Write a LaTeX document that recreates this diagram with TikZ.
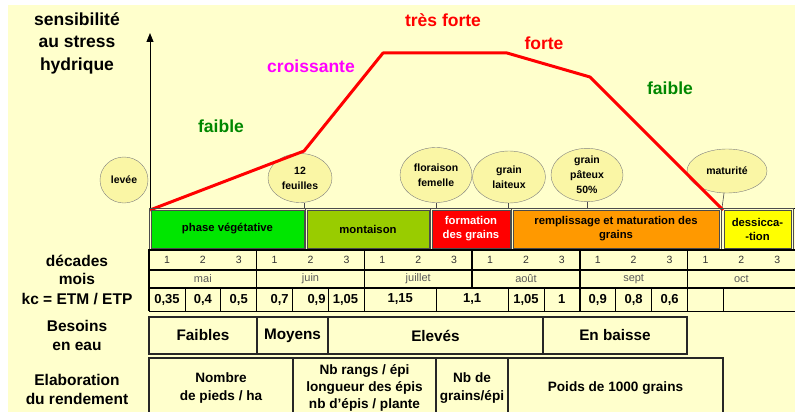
\documentclass[tikz,border=0pt]{standalone}
\usepackage{fontspec}
\setmainfont{Liberation Sans}
\usetikzlibrary{shapes.geometric,arrows.meta}

\definecolor{fond}{RGB}{255,255,204}
\definecolor{ellfond}{RGB}{250,246,165}
\definecolor{vegvert}{RGB}{0,230,0}
\definecolor{montvert}{RGB}{153,204,0}
\definecolor{formrouge}{RGB}{255,0,0}
\definecolor{remporange}{RGB}{255,153,0}
\definecolor{dessjaune}{RGB}{255,255,0}
\definecolor{txtvert}{RGB}{0,135,0}
\definecolor{txtmagenta}{RGB}{255,0,255}

\begin{document}
\begin{tikzpicture}[x=1pt,y=-1pt,
  stade/.style={ellipse,draw=gray,fill=ellfond,inner sep=0pt,align=center,
    font=\fontsize{10.5}{15}\selectfont\bfseries},
  phase/.style={draw=black!70,inner sep=0pt,minimum height=38pt,align=center,
    font=\fontsize{11.3}{14}\selectfont\bfseries},
  niveau/.style={font=\fontsize{17.5}{22}\selectfont\bfseries},
  titre/.style={align=center,font=\fontsize{15.5}{19}\selectfont\bfseries},
  case/.style={draw,line width=0.8pt,inner sep=0pt},
  kctexte/.style={font=\fontsize{13}{15}\selectfont\bfseries},
  grand/.style={case,draw=black!85,line width=1.1pt,align=center,
    font=\fontsize{15.3}{19}\selectfont\bfseries},
  rend/.style={case,draw=black!85,line width=1.1pt,align=center,
    font=\fontsize{13.6}{17.3}\selectfont\bfseries},
  tige/.style={draw=black!70,line width=0.6pt},
]

% fond et cadre
\useasboundingbox (0,0) rectangle (795,412);
\fill[fond] (8,5) rectangle (795,412);

% axe
\coordinate (origine) at (150,210);
\coordinate (axe) at (150,208);
\draw[line width=1pt,-{Triangle[length=9pt,width=7pt]}] (origine) -- (150,33);
\draw[line width=1pt] (axe) -- (795,208);

\node[titre,font=\fontsize{17.5}{22.5}\selectfont\bfseries] (sensib) at (77,43)
  {sensibilit\'e\\au stress\\hydrique};

% stades
\node[stade,minimum width=48pt,minimum height=46pt] (levee) at (124,180) {lev\'ee};
\node[stade,minimum width=64pt,minimum height=49pt] (feuil) at (300,178) {12\\feuilles};
\node[stade,minimum width=72pt,minimum height=55pt] (flor) at (436,175) {floraison\\femelle};
\node[stade,minimum width=73pt,minimum height=52pt] (lait) at (509,177) {grain\\laiteux};
\node[stade,minimum width=72pt,minimum height=49pt] (pat) at (587,175) {grain\\p\^ateux\\50\%};
\node[stade,minimum width=80pt,minimum height=44pt] (matur) at (727,171) {maturit\'e};

\draw[tige] ([xshift=4pt]feuil.south) -- ([xshift=4pt]feuil.south |- axe);
\draw[tige] (flor.south) -- (flor.south |- axe);
\draw[tige] ([xshift=-1pt]lait.south) -- ([xshift=-1pt]lait.south |- axe);
\draw[tige] (pat.south) -- (pat.south |- axe);
\draw[tige] ([xshift=-3pt]matur.south) -- ([xshift=-5pt]matur.south |- axe);

% courbe de sensibilite
\draw[red,line width=3pt,line join=round] (origine) -- (304,151) -- (383,53)
  -- (507,53) -- (590,77) -- (723,210);

\node[niveau,txtvert] (faib1) at (221,126) {faible};
\node[niveau,txtmagenta] (crois) at (311,66) {croissante};
\node[niveau,red] (tresf) at (443,20) {tr\`es forte};
\node[niveau,red] (forte) at (544,43) {forte};
\node[niveau,txtvert] (faib2) at (670,88) {faible};

% phases
\draw[black!70,line width=0.8pt] (149,208) rectangle (793,250);
\foreach \x in {305.5,430.5,511.5,721.5}
  \draw[black!70,line width=0.8pt] (\x,208) -- (\x,250);
\node[phase,fill=vegvert,minimum width=153pt] (veg) at (227.5,229) {phase v\'eg\'etative};
\node[phase,fill=montvert,minimum width=122pt] (mont) at (368,229) {montaison};
\node[phase,fill=formrouge,text=white,minimum width=78pt] (form) at (471,229) {formation\\des grains};
\node[phase,fill=remporange,minimum width=206pt] (remp) at (616,229) {remplissage et maturation des\\grains};
\node[phase,fill=dessjaune,minimum width=67pt] (dess) at (757.5,229) {dessicca-\\-tion};

% decades, mois
\node[titre] (decades) at (77,261) {d\'ecades};
\node[titre] (mois) at (77,279) {mois};
\node[titre] (kc) at (77,299) {kc = ETM / ETP};

\foreach \m [count=\i from 0] in {mai,juin,juillet,ao\^ut,sept,oct} {
  \node[case,line width=1.2pt,minimum width=107.7pt,minimum height=20pt]
    (dec\i) at ({149+(\i+0.5)*107.7},260) {};
  \node[case,line width=1.2pt,minimum width=107.7pt,minimum height=18pt,
    text=black!65,font=\fontsize{11}{13}\selectfont] (mois\i) at ({149+(\i+0.5)*107.7},279) {\m};
}
\foreach \d in {0,...,17}
  \node[text=black!80,font=\fontsize{10.5}{13}\selectfont] (num\d) at ({149+(\d+0.5)*35.9},260)
    {\pgfmathparse{int(mod(\d,3)+1)}\pgfmathresult};

% coefficients kc
\foreach \a/\b/\v/\s [count=\i] in {0/1/{0,35}/0,1/2/{0,4}/0,2/3/{0,5}/0,3/4/{0,7}/5,
    4/5/{0,9}/6,5/6/{1,05}/-1,6/8/{1,15}/0,8/10/{1,1}/0,10/11/{1,05}/0,11/12/{1}/0,
    12/13/{0,9}/0,13/14/{0,8}/0,14/15/{0,6}/0,15/16/{}/0,16/18/{}/0} {
  \node[case,minimum width={(\b-\a)*35.9pt},minimum height=23pt]
    (kc\i) at ({149+(\a+\b)/2*35.9},299.5) {};
  \node[kctexte,xshift=\s pt] at (kc\i) {\v};
}
\draw[line width=1.4pt] (149,250) -- (149,311);
\foreach \m/\bas in {1/311,2/311,3/288,4/311,5/311}
  \draw[line width=1.4pt] ({149+\m*107.7},250) -- ({149+\m*107.7},\bas);

% besoins en eau
\node[titre] (besoins) at (77,335.5) {Besoins\\en eau};
\node[grand,minimum width=108pt,minimum height=37pt] (bfaib) at (203,335.5) {Faibles};
\node[grand,minimum width=71pt,minimum height=37pt] (bmoy) at (292.5,335.5) {Moyens};
\node[grand,minimum width=215pt,minimum height=37pt] (belev) at (435.5,335.5) {Elev\'es};
\node[grand,minimum width=144pt,minimum height=37pt] (bbais) at (615,335.5) {En baisse};

% elaboration du rendement
\node[titre] (elab) at (77,389.5) {Elaboration\\du rendement};
\node[rend,minimum width=144pt,minimum height=60pt] (rpieds) at (221,388) {Nombre\\de pieds / ha};
\node[rend,minimum width=143pt,minimum height=60pt] (repis) at (364.5,388)
  {Nb rangs / \'epi\\longueur des \'epis\\nb d'\'epis / plante};
\node[rend,minimum width=72pt,minimum height=60pt] (rgrains) at (472,388) {Nb de\\grains/\'epi};
\node[rend,minimum width=215pt,minimum height=60pt] (rpoids) at (615.5,388) {Poids de 1000 grains};

\end{tikzpicture}
\end{document}
